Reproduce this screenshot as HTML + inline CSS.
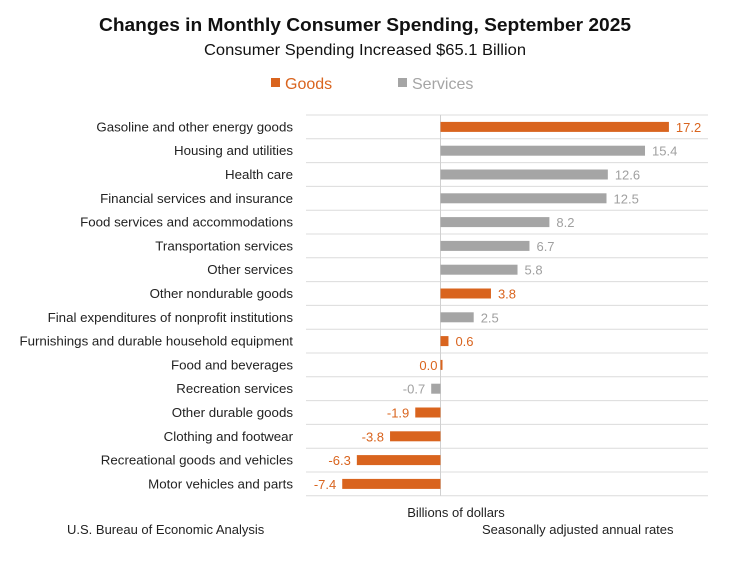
<!DOCTYPE html>
<html><head><meta charset="utf-8"><style>
body{margin:0;background:#fff;width:736px;height:560px;overflow:hidden;font-family:"Liberation Sans",sans-serif}
</style></head><body>
<svg width="736" height="560" id="c" font-family="Liberation Sans, sans-serif">
<text x="365" y="31" text-anchor="middle" font-size="18.5" font-weight="bold" fill="#111" textLength="532" lengthAdjust="spacingAndGlyphs">Changes in Monthly Consumer Spending, September 2025</text>
<text x="365" y="55" text-anchor="middle" font-size="16" fill="#111" textLength="322" lengthAdjust="spacingAndGlyphs">Consumer Spending Increased $65.1 Billion</text>
<g><rect x="271" y="78" width="9" height="9" fill="#d9641e"/><text x="285" y="89" font-size="16" fill="#d9641e">Goods</text></g>
<g><rect x="398" y="78" width="9" height="9" fill="#a5a5a5"/><text x="412" y="89" font-size="16" fill="#a5a5a5">Services</text></g>
<g id="plot"></g>
<text x="456" y="517" text-anchor="middle" font-size="13" fill="#222">Billions of dollars</text>
<text x="67" y="534" font-size="13" fill="#222">U.S. Bureau of Economic Analysis</text>
<text x="482" y="534" font-size="13" fill="#222">Seasonally adjusted annual rates</text>
</svg>
<script>
const categories=["Gasoline and other energy goods","Housing and utilities","Health care","Financial services and insurance","Food services and accommodations","Transportation services","Other services","Other nondurable goods","Final expenditures of nonprofit institutions","Furnishings and durable household equipment","Food and beverages","Recreation services","Other durable goods","Clothing and footwear","Recreational goods and vehicles","Motor vehicles and parts"];
const values=[17.2,15.4,12.6,12.5,8.2,6.7,5.8,3.8,2.5,0.6,0.0,-0.7,-1.9,-3.8,-6.3,-7.4];
const types=["g","s","s","s","s","s","s","g","s","g","g","s","g","g","g","g"];
const NS="http://www.w3.org/2000/svg",g=document.getElementById('plot');
const top0=115,rowH=23.8,x0=306,x1=708;
const xs=v=>440.5+v*13.28;
const ys=i=>top0+rowH*(i+0.5);
function mk(t,a){const e=document.createElementNS(NS,t);for(const k in a)e.setAttribute(k,a[k]);g.appendChild(e);return e;}
for(let i=0;i<=categories.length;i++){const l=mk('line',{x1:x0,x2:x1,y1:top0+rowH*i,y2:top0+rowH*i,stroke:'#dcdcdc','stroke-width':1});

}
const ax=mk('line',{x1:xs(0),x2:xs(0),y1:top0,y2:top0+rowH*categories.length,stroke:'#d0d0d0','stroke-width':1});


categories.forEach((c,i)=>{
 const v=values[i],col=types[i]=='g'?'#d9641e':'#a5a5a5',lc=types[i]=='g'?'#d9641e':'#a0a0a0';
 const y=ys(i);
 const t=mk('text',{x:293,y:y+4.5,'text-anchor':'end','font-size':13.3,fill:'#222'});t.textContent=c;
 
 
 const a=xs(Math.min(0,v)),b=xs(Math.max(0,v));
 const r=mk('rect',{x:a,y:y-5,width:Math.max(b-a,v==0?2:0),height:10,fill:col});
 
 
 const lab=mk('text',{x:v>0?b+7:a-(v==0?3:6),y:y+5,'text-anchor':v>0?'start':'end','font-size':13,fill:lc});
 lab.textContent=v.toFixed(1);
 
 
});
</script>
</body></html>
